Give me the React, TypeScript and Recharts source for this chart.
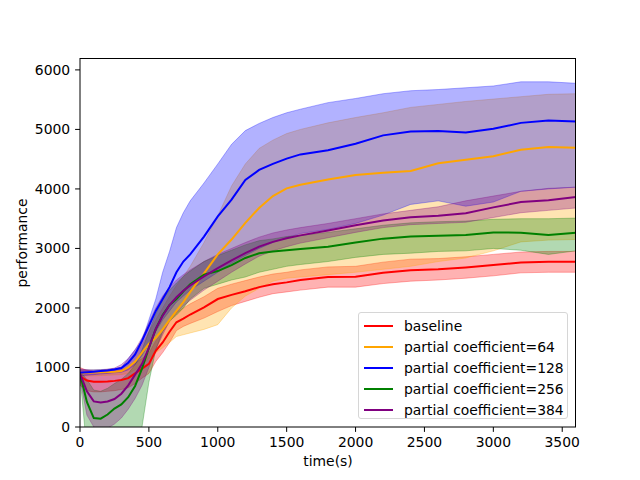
import { ComposedChart, Area, Line, XAxis, YAxis } from "recharts";

const TIME = [0, 50, 100, 150, 200, 250, 300, 350, 400, 450, 500, 550, 600, 650, 700, 750, 800, 900, 1000, 1100, 1200, 1300, 1400, 1500, 1600, 1800, 2000, 2200, 2400, 2600, 2800, 3000, 3200, 3400, 3600];

const X_TICKS = [0, 500, 1000, 1500, 2000, 2500, 3000, 3500];
const Y_TICKS = [0, 1000, 2000, 3000, 4000, 5000, 6000];

// baseline
const BASE_MEAN = [850, 780, 760, 760, 765, 775, 790, 820, 900, 980, 1060, 1280, 1420, 1600, 1760, 1820, 1890, 2010, 2150, 2220, 2280, 2350, 2400, 2430, 2470, 2520, 2525, 2590, 2635, 2650, 2680, 2720, 2765, 2775, 2775];
const BASE_LOW = [700, 610, 590, 590, 600, 610, 630, 660, 730, 820, 900, 1100, 1250, 1420, 1620, 1690, 1740, 1830, 1940, 2040, 2110, 2180, 2240, 2270, 2300, 2350, 2350, 2410, 2450, 2470, 2500, 2540, 2590, 2600, 2600];
const BASE_HIGH = [1000, 950, 930, 930, 935, 945, 960, 990, 1070, 1150, 1240, 1450, 1600, 1760, 1920, 2000, 2070, 2190, 2330, 2400, 2460, 2520, 2570, 2600, 2640, 2690, 2700, 2770, 2820, 2830, 2860, 2900, 2940, 2950, 2950];

// partial coefficient=64
const P64_MEAN = [900, 910, 915, 920, 925, 930, 940, 1000, 1100, 1250, 1400, 1500, 1640, 1800, 1950, 2100, 2270, 2580, 2900, 3150, 3430, 3680, 3880, 4010, 4070, 4160, 4235, 4270, 4300, 4430, 4490, 4550, 4660, 4705, 4690];
const P64_LOW = [850, 855, 860, 865, 870, 875, 880, 900, 960, 1050, 1150, 1250, 1330, 1420, 1520, 1550, 1580, 1640, 1720, 2000, 2200, 2330, 2450, 2500, 2520, 2560, 2600, 2650, 2700, 2780, 2840, 2960, 3110, 3140, 3150];
const P64_HIGH = [960, 960, 960, 965, 970, 975, 1000, 1080, 1200, 1380, 1600, 1800, 2000, 2200, 2380, 2530, 2700, 3100, 3550, 4050, 4420, 4680, 4820, 4930, 5000, 5110, 5200, 5280, 5370, 5420, 5470, 5510, 5550, 5590, 5600];

// partial coefficient=128
const P128_MEAN = [910, 920, 930, 940, 950, 965, 990, 1080, 1220, 1450, 1700, 1950, 2150, 2350, 2600, 2780, 2900, 3200, 3540, 3820, 4150, 4320, 4420, 4510, 4580, 4650, 4760, 4900, 4965, 4975, 4950, 5010, 5110, 5150, 5135];
const P128_LOW = [860, 870, 880, 890, 900, 910, 920, 960, 1050, 1200, 1400, 1600, 1800, 1950, 2100, 2200, 2300, 2450, 2600, 2750, 2880, 3000, 3100, 3180, 3250, 3320, 3420, 3560, 3740, 3800, 3710, 3780, 3960, 4000, 4030];
const P128_HIGH = [960, 960, 960, 965, 970, 985, 1000, 1150, 1300, 1450, 1800, 2150, 2600, 2950, 3350, 3600, 3800, 4100, 4420, 4750, 4980, 5100, 5200, 5280, 5340, 5450, 5520, 5600, 5650, 5670, 5700, 5730, 5800, 5800, 5775];

// partial coefficient=256
const P256_MEAN = [900, 420, 150, 140, 210, 310, 380, 500, 690, 980, 1330, 1650, 1880, 2050, 2150, 2280, 2400, 2560, 2620, 2720, 2840, 2920, 2950, 2970, 2990, 3030, 3100, 3165, 3200, 3215, 3225, 3270, 3265, 3225, 3265];
const P256_LOW = [850, -400, -500, -450, -400, -350, -300, -200, -100, 0, 750, 1300, 1600, 1780, 1880, 2000, 2150, 2330, 2400, 2470, 2520, 2600, 2650, 2700, 2730, 2780, 2850, 2900, 2920, 2950, 2960, 3000, 2970, 2900, 2960];
const P256_HIGH = [930, 800, 620, 600, 650, 730, 800, 900, 1050, 1300, 1600, 1900, 2150, 2300, 2420, 2530, 2620, 2780, 2880, 2970, 3060, 3130, 3160, 3200, 3220, 3270, 3330, 3390, 3430, 3450, 3460, 3490, 3500, 3500, 3510];

// partial coefficient=384
const P384_MEAN = [900, 600, 430, 410, 430, 470, 560, 700, 880, 1060, 1330, 1650, 1870, 2050, 2180, 2290, 2380, 2530, 2670, 2800, 2920, 3030, 3110, 3170, 3220, 3300, 3390, 3470, 3525, 3550, 3590, 3690, 3780, 3810, 3865];
const P384_LOW = [820, 200, 0, -50, -20, 50, 150, 300, 480, 700, 1000, 1300, 1550, 1780, 1920, 2030, 2130, 2300, 2450, 2600, 2740, 2870, 2960, 3030, 3090, 3180, 3270, 3350, 3400, 3420, 3440, 3520, 3600, 3640, 3680];
const P384_HIGH = [980, 960, 940, 950, 970, 990, 1050, 1150, 1300, 1500, 1750, 2000, 2200, 2350, 2470, 2560, 2640, 2780, 2900, 3000, 3100, 3190, 3260, 3310, 3350, 3420, 3500, 3580, 3640, 3700, 3800, 3880, 3960, 4010, 4030];

const SERIES = [
  { key: "base", name: "baseline", color: "#ff0000", mean: BASE_MEAN, low: BASE_LOW, high: BASE_HIGH },
  { key: "p64", name: "partial coefficient=64", color: "#ffa500", mean: P64_MEAN, low: P64_LOW, high: P64_HIGH },
  { key: "p128", name: "partial coefficient=128", color: "#0000ff", mean: P128_MEAN, low: P128_LOW, high: P128_HIGH },
  { key: "p256", name: "partial coefficient=256", color: "#008000", mean: P256_MEAN, low: P256_LOW, high: P256_HIGH },
  { key: "p384", name: "partial coefficient=384", color: "#800080", mean: P384_MEAN, low: P384_LOW, high: P384_HIGH },
];

const data = TIME.map((t, i) => {
  const row: Record<string, number | number[]> = { t };
  for (const s of SERIES) {
    row[s.key] = s.mean[i];
    row[s.key + "Band"] = [s.low[i], s.high[i]];
  }
  return row;
});

const FONT = "'DejaVu Sans', sans-serif";
const tickStyle = { fill: "#000", fontSize: 13.9, fontFamily: FONT };

function ChartLegend() {
  return (
    <div
      style={{
        position: "absolute", left: 358, top: 312, width: 210, height: 107,
        background: "rgba(255,255,255,0.8)", border: "1px solid #d6d6d6",
        borderRadius: 3, boxSizing: "border-box",
        fontFamily: FONT, fontSize: 13.9, color: "#000",
      }}
    >
      {SERIES.map((s, i) => (
        <div key={s.key} style={{ position: "absolute", left: 0, top: 3 + i * 21, height: 20, display: "flex", alignItems: "center" }}>
          <div style={{ marginLeft: 5, width: 29, height: 2, background: s.color }} />
          <span style={{ marginLeft: 11, whiteSpace: "nowrap" }}>{s.name}</span>
        </div>
      ))}
    </div>
  );
}

export default function App() {
  return (
    <div style={{ position: "absolute", left: 0, top: 0, width: 640, height: 480, background: "#fff" }}>
      <ComposedChart width={640} height={480} data={data} margin={{ top: 58, right: 64, bottom: 13, left: 20 }}>
        <XAxis
          dataKey="t" type="number" domain={[0, 3600]} ticks={X_TICKS} height={40}
          tick={tickStyle} tickSize={4.9} tickMargin={4.9}
          axisLine={{ stroke: "#000" }} tickLine={{ stroke: "#000" }}
          allowDataOverflow
        />
        <YAxis
          type="number" domain={[0, 6200]} ticks={Y_TICKS} width={60}
          tick={tickStyle} tickSize={4.9} tickMargin={4.9}
          axisLine={{ stroke: "#000" }} tickLine={{ stroke: "#000" }}
          allowDataOverflow
        />
        {SERIES.map((s) => (
          <Area
            key={s.key + "Band"}
            dataKey={s.key + "Band"}
            type="linear"
            fill={s.color}
            fillOpacity={0.3}
            stroke={s.color}
            strokeOpacity={0.3}
            strokeWidth={1}
            isAnimationActive={false}
            activeDot={false}
          />
        ))}
        {SERIES.map((s) => (
          <Line
            key={s.key}
            dataKey={s.key}
            type="linear"
            stroke={s.color}
            strokeWidth={2}
            dot={false}
            activeDot={false}
            isAnimationActive={false}
          />
        ))}
      </ComposedChart>
      {/* frame around the plot area */}
      <div
        style={{
          position: "absolute", left: 80, top: 58, width: 496, height: 369,
          border: "1px solid #000", borderBottom: "none", borderLeft: "none",
          boxSizing: "border-box", pointerEvents: "none",
        }}
      />
      <div style={{ position: "absolute", left: 0, width: 640, top: 453, textAlign: "center", paddingLeft: 16, boxSizing: "border-box", fontFamily: FONT, fontSize: 13.9 }}>
        time(s)
      </div>
      <div
        style={{
          position: "absolute", left: 22, top: 243, transform: "translate(-50%, -50%) rotate(-90deg)",
          fontFamily: FONT, fontSize: 13.9, whiteSpace: "nowrap",
        }}
      >
        performance
      </div>
      <ChartLegend />
    </div>
  );
}
